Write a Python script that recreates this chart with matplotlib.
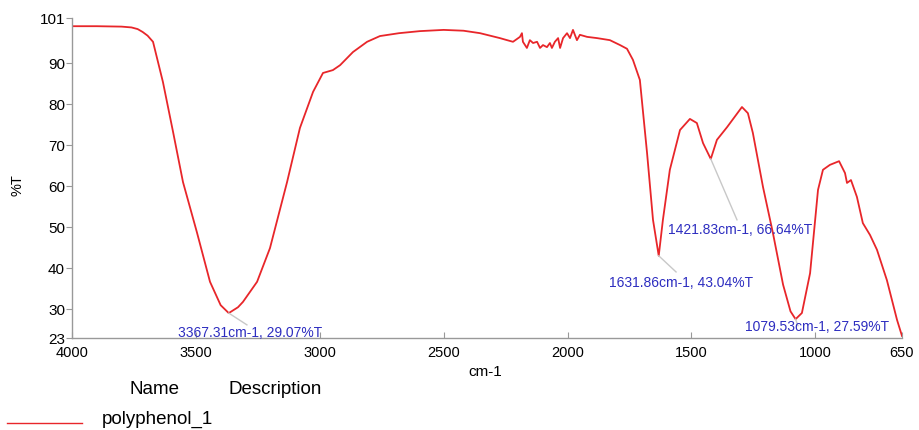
import matplotlib
matplotlib.use('Agg')
import matplotlib.pyplot as plt

plt.rcParams['font.family'] = ['Liberation Sans', 'DejaVu Sans']

# FTIR spectrum (wavenumber cm-1, %T)
wavenumber = [4000, 3900, 3800, 3760, 3735, 3715, 3695, 3673, 3633, 3592, 3552, 3496, 3443,
              3400, 3367.31, 3330, 3310, 3253, 3201, 3132, 3080, 3027, 2987, 2947, 2918,
              2866, 2809, 2757, 2680, 2596, 2500, 2420, 2353, 2273, 2244, 2220, 2192, 2184,
              2180, 2164, 2152, 2139, 2123, 2111, 2099, 2083, 2071, 2063, 2051, 2038, 2030,
              2018, 2002, 1990, 1978, 1962, 1950, 1921, 1881, 1829, 1788, 1760, 1736, 1708,
              1679, 1655, 1631.86, 1615, 1587, 1546, 1506, 1478, 1453, 1421.83, 1397, 1356,
              1296, 1272, 1252, 1211, 1171, 1130, 1100, 1079.53, 1054, 1021, 989, 969, 941,
              904, 880, 872, 856, 832, 808, 779, 751, 711, 670, 650]
transmittance = [99.0, 99.0, 98.9, 98.7, 98.3, 97.6, 96.7, 95.2, 85.4, 73.2, 61.0, 48.8, 36.7,
                 31.0, 29.07, 30.5, 31.8, 36.7, 44.9, 61.0, 74.2, 83.0, 87.6, 88.3, 89.5,
                 92.7, 95.2, 96.6, 97.3, 97.8, 98.1, 97.9, 97.3, 96.1, 95.6, 95.2, 96.4, 97.3,
                 95.2, 93.7, 95.6, 94.9, 95.2, 93.7, 94.4, 93.9, 94.9, 93.7, 95.2, 96.1, 93.7,
                 96.1, 97.3, 96.1, 98.1, 95.6, 96.9, 96.4, 96.1, 95.6, 94.4, 93.5, 90.8, 85.9,
                 68.1, 51.8, 43.04, 51.8, 64.0, 73.7, 76.4, 75.4, 70.5, 66.64, 71.3, 74.4,
                 79.3, 77.8, 73.0, 59.8, 48.6, 36.0, 29.5, 27.59, 29.1, 38.8, 59.1, 64.0, 65.2,
                 66.1, 63.2, 60.8, 61.5, 57.4, 51.0, 48.1, 44.5, 37.1, 27.4, 23.5]

# peak labels: (peak x, peak y, label, text x, text y)
peak_x = [3367.31, 1631.86, 1421.83, 1079.53]
peak_y = [29.07, 43.04, 66.64, 27.59]
peak_labels = ['3367.31cm-1, 29.07%T', '1631.86cm-1, 43.04%T',
               '1421.83cm-1, 66.64%T', '1079.53cm-1, 27.59%T']
label_x = [3572, 1833, 1595, 1284]
label_y = [24.2, 36.4, 49.3, 25.7]
leader_x = [3294, 1562, 1316, 1070]
leader_y = [26.2, 39.1, 51.8, 26.0]

xticks = [4000, 3500, 3000, 2500, 2000, 1500, 1000, 650]
yticks = [23, 30, 40, 50, 60, 70, 80, 90, 101]

fig = plt.figure(figsize=(9.2, 4.3), dpi=100)
ax = fig.add_axes([72 / 920, 92 / 430, 830 / 920, 320 / 430])

ax.plot(wavenumber, transmittance, color='#e8262a', lw=1.3)
ax.set_xlim(4000, 650)
ax.set_ylim(23, 101)

for px, py, lab, tx, ty, lx, ly in zip(peak_x, peak_y, peak_labels, label_x, label_y,
                                       leader_x, leader_y):
    ax.plot([px, lx], [py, ly], color='#c8c8c8', lw=1, clip_on=False)
    ax.text(tx, ty, lab, color='#2d2dc0', fontsize=10, ha='left', va='center',
            clip_on=False)

ax.set_xticks(xticks)
ax.set_xticklabels([str(t) for t in xticks])
ax.set_yticks(yticks)
ax.set_yticklabels([str(t) for t in yticks])
ax.tick_params(axis='y', direction='out', length=4, color='#999999', labelsize=11, pad=1)
ax.tick_params(axis='x', direction='in', length=4, color='#999999', labelsize=10.5, pad=6)

for s in ['top', 'right']:
    ax.spines[s].set_visible(False)
for s in ['left', 'bottom']:
    ax.spines[s].set_color('#999999')
    ax.spines[s].set_linewidth(1)

fig.text(18 / 920, 1 - 185 / 430, '%T', rotation=90, ha='center', va='center', fontsize=10.5)
fig.text(485 / 920, 1 - 372 / 430, 'cm-1', ha='center', va='center', fontsize=11)

# legend-like table under the plot
fig.text(155 / 920, 1 - 390 / 430, 'Name', ha='center', va='center', fontsize=13.5)
fig.text(275 / 920, 1 - 390 / 430, 'Description', ha='center', va='center', fontsize=13.5)
fig.add_artist(plt.Line2D([7 / 920, 82 / 920], [1 - 423 / 430, 1 - 423 / 430],
                          color='#e8262a', lw=1))
fig.text(102 / 920, 1 - 419 / 430, 'polyphenol_1', ha='left', va='center', fontsize=13.5)

fig.savefig('out.png', dpi=100)
